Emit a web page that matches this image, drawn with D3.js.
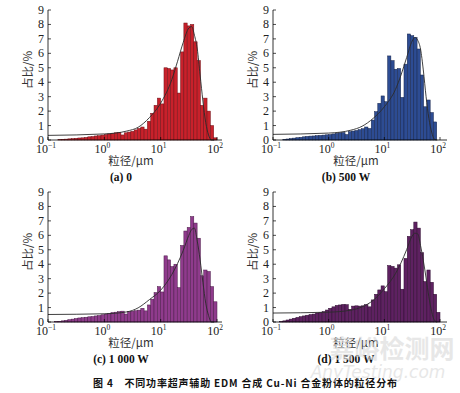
<!DOCTYPE html>
<html>
<head>
<meta charset="utf-8">
<script src="https://cdn.jsdelivr.net/npm/d3@7"></script>
<style>
  body { margin: 0; background: #fff; }
  svg { display: block; }
</style>
</head>
<body>
<svg id="fig" width="460" height="393"></svg>
<script>
// size classes (um): log grid, 17 classes per decade from 0.1 to 100
var binEdges = d3.range(52).map(function(k){ return Math.pow(10, -1 + k / 17); });

// volume fraction (%) of each size class
var pct0W = [0, 0, 0, 0.03, 0.05, 0.06, 0.08, 0.1, 0.12, 0.14, 0.15, 0.18, 0.22, 0.24, 0.28, 0.3, 0.34,
  0.38, 0.42, 0.46, 0.5, 0.52, 0.35, 0.5, 0.55, 0.6, 0.7, 0.8, 0.9, 0.75, 1.3, 1.85, 2.4, 2.9,
  2.5, 5.0, 4.95, 4.85, 5.0, 3.25, 6.1, 8.1, 7.9, 8.0, 6.8, 5.5, 2.4, 2.9, 2.0, 1.0, 0.15];
var pct500W = [0, 0, 0, 0.03, 0.07, 0.1, 0.13, 0.16, 0.19, 0.22, 0.25, 0.27, 0.28, 0.3, 0.32, 0.34, 0.36,
  0.38, 0.42, 0.46, 0.5, 0.52, 0.38, 0.58, 0.62, 0.66, 0.72, 0.78, 0.9, 0.8, 1.38, 1.96, 2.54, 3.05,
  2.65, 5.82, 5.5, 4.9, 4.95, 2.95, 5.25, 7.34, 7.22, 7.1, 6.3, 4.5, 2.3, 2.77, 1.9, 1.25, 0];
var pct1000W = [0, 0, 0.02, 0.05, 0.08, 0.12, 0.16, 0.2, 0.24, 0.28, 0.3, 0.33, 0.36, 0.38, 0.42, 0.45, 0.5,
  0.55, 0.6, 0.65, 0.68, 0.72, 0.75, 0.55, 0.72, 0.75, 0.78, 0.82, 0.95, 0.77, 1.18, 1.58, 2.04, 2.45,
  2.08, 4.58, 4.3, 3.84, 4.0, 2.38, 5.3, 6.3, 6.55, 7.3, 6.85, 5.8, 3.2, 3.6, 3.5, 2.45, 1.4];
var pct1500W = [0, 0, 0.02, 0.08, 0.14, 0.2, 0.26, 0.32, 0.37, 0.42, 0.47, 0.52, 0.55, 0.62, 0.66, 0.72, 0.83,
  0.95, 1.05, 1.15, 1.18, 1.22, 1.2, 0.88, 1.1, 1.12, 1.1, 1.12, 1.2, 1.05, 1.53, 1.92, 2.22, 2.5,
  2.1, 3.91, 3.85, 3.73, 3.96, 2.27, 4.4, 5.93, 6.39, 6.92, 6.5, 4.8, 2.8, 3.6, 2.75, 1.92, 0.67];

// fitted curve, sampled by eye at these sizes (um)
var fitSize = [0.1, 1, 2.51, 3.98, 6.31, 10, 15.85, 19.95, 25.12, 31.62, 35.48, 39.81, 44.67, 50.12, 56.23, 63.1, 70.79, 79.43, 89.13];
var fit0W    = [0.32, 0.42, 0.62, 0.88, 1.55, 2.55, 4.2, 5.45, 6.75, 7.75, 7.85, 7.25, 6.3, 4.5, 2.7, 1.2, 0.35, 0, 0];
var fit500W  = [0.39, 0.48, 0.68, 0.95, 1.5, 2.3, 3.5, 4.5, 5.7, 6.85, 7.1, 6.9, 6.3, 4.85, 3.0, 1.5, 0.55, 0.05, 0];
var fit1000W = [0.52, 0.57, 0.7, 0.98, 1.55, 2.2, 3.3, 4.05, 4.95, 6.0, 6.4, 6.5, 5.6, 4.3, 2.75, 1.3, 0.45, 0, 0];
var fit1500W = [0.62, 0.68, 0.82, 1.05, 1.5, 2.3, 3.35, 4.1, 5.0, 5.95, 6.15, 6.1, 5.3, 4.25, 3.05, 1.75, 0.72, 0.12, 0];

var xTicks = [0.1, 1, 10, 100];
var xTickExp = ["\u22121", "0", "1", "2"];
var yTicks = [0, 1, 2, 3, 4, 5, 6, 7, 8, 9];

var panels = [
  {bars: pct0W,    fit: fit0W,    label: "(a) 0",       fill: "#c8212b", edge: "#6e1016", x0: 48,  x1: 217, xEnd: 222, y0: 140, y1: 10},
  {bars: pct500W,  fit: fit500W,  label: "(b) 500 W",   fill: "#2d4c93", edge: "#16254b", x0: 273, x1: 440, xEnd: 447, y0: 140, y1: 10},
  {bars: pct1000W, fit: fit1000W, label: "(c) 1 000 W", fill: "#8f3b8c", edge: "#4a1a48", x0: 48,  x1: 217, xEnd: 222, y0: 322, y1: 192},
  {bars: pct1500W, fit: fit1500W, label: "(d) 1 500 W", fill: "#5e2161", edge: "#2e0d30", x0: 273, x1: 440, xEnd: 447, y0: 322, y1: 192}
];

var svg = d3.select("#fig");
var numFont = "'Liberation Serif', 'DejaVu Serif', serif";
var cjkFont = "'Noto Sans CJK SC', sans-serif";

function drawPanel(p) {
  var x = d3.scaleLog().domain([0.1, 100]).range([p.x0, p.x1]);
  var y = d3.scaleLinear().domain([0, 9]).range([p.y0, p.y1]);
  var g = svg.append("g");

  // bars
  g.selectAll("rect.bar")
    .data(p.bars)
    .enter().append("rect")
    .attr("class", "bar")
    .attr("x", function(d, i){ return x(binEdges[i]); })
    .attr("width", function(d, i){ return x(binEdges[i + 1]) - x(binEdges[i]); })
    .attr("y", function(d){ return y(d); })
    .attr("height", function(d){ return y(0) - y(d); })
    .style("fill", p.fill)
    .style("stroke", p.edge)
    .style("stroke-width", 0.5);

  // fitted curve
  var line = d3.line()
    .x(function(d){ return x(d[0]); })
    .y(function(d){ return y(d[1]); })
    .curve(d3.curveMonotoneX);
  g.append("path")
    .datum(d3.zip(fitSize, p.fit))
    .attr("d", line)
    .style("fill", "none")
    .style("stroke", "#2b2b2b")
    .style("stroke-width", 0.9);

  // axes
  g.append("line").attr("x1", p.x0).attr("x2", p.xEnd).attr("y1", p.y0).attr("y2", p.y0)
    .style("stroke", "#000").style("stroke-width", 0.8);
  g.append("line").attr("x1", p.x0).attr("x2", p.x0).attr("y1", p.y0).attr("y2", p.y1)
    .style("stroke", "#000").style("stroke-width", 0.8);

  // y ticks
  g.selectAll("line.yt").data(yTicks).enter().append("line")
    .attr("x1", p.x0).attr("x2", p.x0 + 3)
    .attr("y1", function(d){ return y(d); }).attr("y2", function(d){ return y(d); })
    .style("stroke", "#000").style("stroke-width", 0.7);
  g.selectAll("text.yt").data(yTicks).enter().append("text")
    .attr("x", p.x0 - 4)
    .attr("y", function(d){ return y(d) + 4; })
    .attr("text-anchor", "end")
    .style("font-family", numFont).style("font-size", "12px").style("fill", "#222")
    .text(function(d){ return d; });

  // x ticks
  g.selectAll("line.xt").data(xTicks).enter().append("line")
    .attr("x1", function(d){ return x(d); }).attr("x2", function(d){ return x(d); })
    .attr("y1", p.y0).attr("y2", p.y0 - 3)
    .style("stroke", "#000").style("stroke-width", 0.7);
  var xt = g.selectAll("text.xt").data(xTicks).enter().append("text")
    .attr("x", function(d){ return x(d) - 2; })
    .attr("y", p.y0 + 13)
    .attr("text-anchor", "middle")
    .style("font-family", numFont).style("font-size", "12px").style("fill", "#222");
  xt.append("tspan").text("10");
  xt.append("tspan").attr("dy", -5).style("font-size", "7.5px")
    .text(function(d, i){ return xTickExp[i]; });

  // axis titles
  g.append("text")
    .attr("x", p.x0 + 83).attr("y", p.y0 + 25)
    .attr("text-anchor", "middle")
    .style("font-family", cjkFont).style("font-size", "11.5px").style("fill", "#333")
    .text("粒径/\u03bcm");
  g.append("text")
    .attr("transform", "translate(" + (p.x0 - 16) + "," + (p.y0 - 70) + ") rotate(-90)")
    .attr("text-anchor", "middle")
    .style("font-family", cjkFont).style("font-size", "11.5px").style("fill", "#333")
    .text("占比/%");

  // sub caption
  g.append("text")
    .attr("x", p.x0 + 73).attr("y", p.y0 + 41)
    .attr("text-anchor", "middle")
    .style("font-family", numFont).style("font-size", "11.5px").style("font-weight", "bold").style("fill", "#111")
    .text(p.label);
}

panels.forEach(drawPanel);

// figure caption
svg.append("text")
  .attr("x", 245).attr("y", 387)
  .attr("text-anchor", "middle")
  .attr("textLength", 304).attr("lengthAdjust", "spacing")
  .style("font-family", cjkFont).style("font-size", "10px").style("font-weight", "bold").style("fill", "#111")
  .text("图 4　不同功率超声辅助 EDM 合成 Cu-Ni 合金粉体的粒径分布");

// site watermark
svg.append("text")
  .attr("x", 392).attr("y", 358)
  .attr("text-anchor", "middle")
  .style("font-family", cjkFont).style("font-size", "25px").style("font-weight", "bold")
  .style("fill", "#d8d8d8").style("opacity", 0.6)
  .text("嘉峪检测网");
svg.append("text")
  .attr("x", 378).attr("y", 378)
  .attr("text-anchor", "middle")
  .style("font-family", "'DejaVu Sans', sans-serif").style("font-size", "17px").style("font-style", "italic")
  .style("fill", "#d8d8d8").style("opacity", 0.6)
  .text("AnyTesting.com");
</script>
</body>
</html>
